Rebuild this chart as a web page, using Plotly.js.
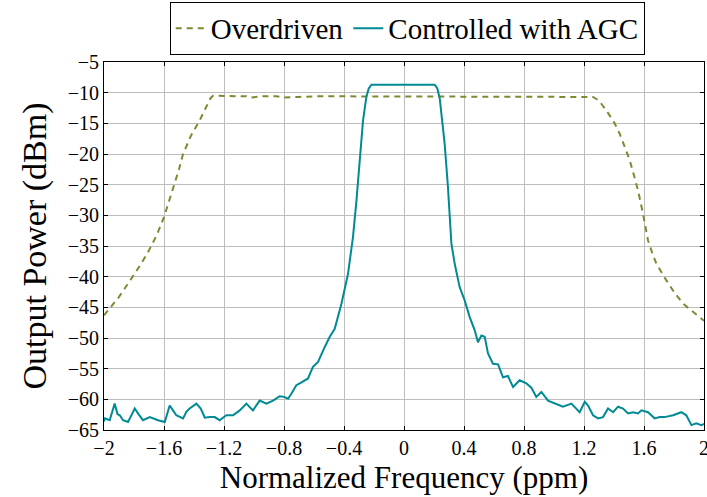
<!DOCTYPE html>
<html>
<head>
<meta charset="utf-8">
<script src="https://cdn.plot.ly/plotly-3.0.1.min.js"></script>
<style>html,body{margin:0;padding:0;background:#fff;}#chart{width:707px;height:497px;}</style>
</head>
<body>
<div id="chart"></div>
<script>
var overX = [-2, -1.95, -1.9, -1.817, -1.75, -1.7, -1.65, -1.6, -1.55, -1.5, -1.473, -1.42, -1.362, -1.32, -1.29, -1.273, -1.2, -1.1, -1.05, -1.02, -0.95, -0.85, -0.8, -0.7, -0.6, -0.4, -0.2, 0, 0.2, 0.4, 0.6, 0.8, 0.9, 1.0, 1.1, 1.2, 1.26, 1.3, 1.349, 1.4, 1.438, 1.505, 1.56, 1.593, 1.627, 1.66, 1.683, 1.749, 1.8, 1.86, 1.92, 1.971, 2.0];
var overY = [-46.3, -44.8, -43.3, -40.3, -37.8, -35.7, -33.3, -30.3, -26.5, -22.5, -20.0, -17.0, -14.5, -12.5, -10.9, -10.5, -10.5, -10.5, -10.6, -10.8, -10.6, -10.6, -10.8, -10.7, -10.6, -10.6, -10.6, -10.6, -10.6, -10.6, -10.6, -10.6, -10.7, -10.7, -10.6, -10.6, -10.7, -11.3, -12.9, -14.8, -16.7, -21.0, -25.9, -29.7, -34.1, -36.5, -37.9, -40.6, -42.5, -44.4, -45.6, -46.6, -47.2];

var agcX = [-2.0, -1.995, -1.962, -1.929, -1.91, -1.895, -1.873, -1.84, -1.815, -1.795, -1.77, -1.74, -1.695, -1.66, -1.64, -1.595, -1.562, -1.54, -1.518, -1.473, -1.45, -1.429, -1.384, -1.355, -1.328, -1.295, -1.262, -1.229, -1.184, -1.14, -1.095, -1.051, -1.007, -0.962, -0.917, -0.873, -0.829, -0.8, -0.773, -0.751, -0.718, -0.695, -0.64, -0.607, -0.573, -0.529, -0.495, -0.462, -0.417, -0.373, -0.34, -0.317, -0.295, -0.273, -0.251, -0.235, -0.217, -0.1, 0, 0.1, 0.205, 0.222, 0.238, 0.271, 0.293, 0.316, 0.338, 0.371, 0.405, 0.438, 0.471, 0.493, 0.516, 0.538, 0.56, 0.593, 0.627, 0.66, 0.693, 0.727, 0.771, 0.816, 0.849, 0.882, 0.916, 0.96, 1.005, 1.038, 1.06, 1.116, 1.171, 1.205, 1.227, 1.26, 1.294, 1.327, 1.36, 1.394, 1.427, 1.46, 1.494, 1.527, 1.56, 1.583, 1.627, 1.671, 1.705, 1.738, 1.794, 1.849, 1.882, 1.916, 1.949, 1.982, 2.0];
var agcY = [-63.6, -63.1, -63.4, -60.7, -62.4, -62.6, -63.4, -63.7, -62.5, -61.5, -62.4, -63.4, -62.9, -63.3, -63.4, -63.7, -61.0, -61.8, -62.6, -63.1, -62.0, -61.5, -60.7, -61.5, -63.0, -62.9, -62.9, -63.4, -62.6, -62.6, -61.8, -60.7, -61.8, -60.2, -60.7, -60.2, -59.5, -59.6, -59.9, -59.1, -57.7, -57.4, -56.6, -54.7, -53.9, -51.5, -49.8, -48.5, -44.4, -39.5, -33.5, -27.6, -21.0, -14.5, -10.7, -9.3, -8.7, -8.7, -8.7, -8.7, -8.7, -9.3, -10.9, -18.3, -25.4, -34.6, -37.9, -41.7, -43.9, -46.6, -48.7, -50.7, -49.6, -49.8, -52.5, -54.2, -54.3, -56.4, -56.2, -58.0, -56.9, -57.4, -58.1, -59.6, -58.8, -60.2, -60.7, -61.0, -61.2, -60.7, -62.1, -60.4, -61.0, -62.6, -63.1, -62.9, -61.5, -62.1, -61.2, -61.5, -62.3, -62.1, -62.3, -61.8, -62.1, -63.1, -62.9, -62.9, -62.6, -62.1, -62.6, -64.2, -63.9, -64.2, -64.0];

var xTicks = [-2, -1.6, -1.2, -0.8, -0.4, 0, 0.4, 0.8, 1.2, 1.6, 2];
var xTickText = ["\u22122", "\u22121.6", "\u22121.2", "\u22120.8", "\u22120.4", "0", "0.4", "0.8", "1.2", "1.6", "2"];
var yTicks = [-65, -60, -55, -50, -45, -40, -35, -30, -25, -20, -15, -10, -5];

var serif = "Liberation Serif, DejaVu Serif, serif";

var traces = [
  {x: overX, y: overY, name: "Overdriven", type: "scatter", mode: "lines",
   line: {color: "#7d8a32", width: 2, dash: "6px,5px"}},
  {x: agcX, y: agcY, name: "Controlled with AGC", type: "scatter", mode: "lines",
   line: {color: "#008a94", width: 2}}
];

var layout = {
  width: 707, height: 497,
  margin: {l: 104, r: 3, t: 62, b: 67},
  paper_bgcolor: "#fff", plot_bgcolor: "#fff",
  font: {family: serif, color: "#000", size: 20},
  showlegend: true,
  legend: {orientation: "h", xref: "container", yref: "container",
           x: 0.576, xanchor: "center", y: 0.943, yanchor: "middle",
           bordercolor: "#000", borderwidth: 1, font: {family: serif, size: 29},
           itemwidth: 30, tracegroupgap: 0},
  xaxis: {range: [-2, 2], tickvals: xTicks, ticktext: xTickText, ticklabeloverflow: "allow",
          showgrid: true, gridcolor: "#bdbdbd", gridwidth: 1,
          showline: true, linecolor: "#000", linewidth: 1, mirror: "ticks",
          ticks: "inside", ticklen: 4, tickcolor: "#000", zeroline: false,
          tickfont: {family: serif, size: 20},
          title: {text: "Normalized Frequency (ppm)", font: {family: serif, size: 31}, standoff: 8}},
  yaxis: {range: [-65, -5], tickvals: yTicks, ticklabeloverflow: "allow",
          showgrid: true, gridcolor: "#bdbdbd", gridwidth: 1,
          showline: true, linecolor: "#000", linewidth: 1, mirror: "ticks",
          ticks: "inside", ticklen: 4, tickcolor: "#000", zeroline: false,
          tickfont: {family: serif, size: 20},
          title: {text: "Output Power (dBm)", font: {family: serif, size: 34}, standoff: 10}}
};

Plotly.newPlot("chart", traces, layout, {displayModeBar: false, staticPlot: true});
</script>
</body>
</html>
